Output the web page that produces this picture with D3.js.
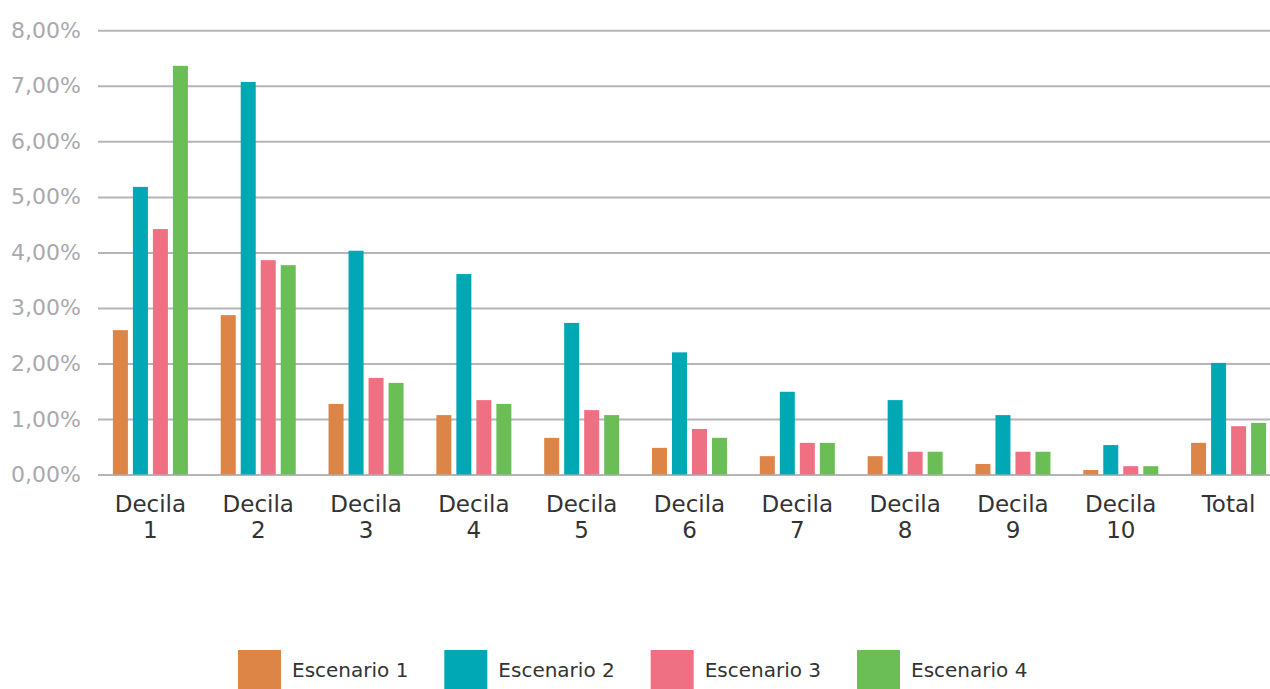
<!DOCTYPE html>
<html>
<head>
<meta charset="utf-8">
<script src="https://cdn.jsdelivr.net/npm/d3@7"></script>
<style>
  html, body { margin: 0; padding: 0; background: #fff; }
  svg { display: block; }
  text { font-family: "DejaVu Sans", "Noto Sans", sans-serif; }
</style>
</head>
<body>
<svg id="chart" width="1270" height="689"></svg>
<script>
// Category labels (two-line) and series
const categories = ["Decila 1", "Decila 2", "Decila 3", "Decila 4", "Decila 5", "Decila 6", "Decila 7", "Decila 8", "Decila 9", "Decila 10", "Total"];
const seriesNames = ["Escenario 1", "Escenario 2", "Escenario 3", "Escenario 4"];
const seriesColors = ["#DD8447", "#00A8B5", "#F07083", "#6ABE55"];

// Values in percent
const escenario1 = [2.60, 2.87, 1.27, 1.07, 0.66, 0.48, 0.33, 0.33, 0.19, 0.08, 0.57];
const escenario2 = [5.18, 7.07, 4.03, 3.61, 2.73, 2.20, 1.49, 1.34, 1.07, 0.53, 2.01];
const escenario3 = [4.42, 3.86, 1.74, 1.34, 1.16, 0.82, 0.57, 0.41, 0.41, 0.15, 0.87];
const escenario4 = [7.36, 3.77, 1.65, 1.27, 1.07, 0.66, 0.57, 0.41, 0.41, 0.15, 0.93];
const seriesValues = [escenario1, escenario2, escenario3, escenario4];

const yTicks = [0, 1, 2, 3, 4, 5, 6, 7, 8];

const svg = d3.select("#chart");
const plotLeft = 98, plotRight = 1284, plotTop = 30.3, plotBottom = 474.5;

const x0 = d3.scaleBand().domain(categories).range([plotLeft - 1.5, plotRight - 1.5]).padding(0);
const x1 = d3.scaleBand().domain(seriesNames).range([0, x0.bandwidth()])
  .paddingInner(0.25).paddingOuter(0.82);
const y = d3.scaleLinear().domain([0, 8]).range([plotBottom, plotTop]);

const fmt = v => d3.format(".2f")(v).replace(".", ",") + "%";

// Horizontal gridlines and y-axis labels
const yAxis = d3.axisLeft(y).tickValues(yTicks).tickSize(-(1270 - plotLeft)).tickFormat(fmt).tickPadding(17);
const gy = svg.append("g").attr("transform", `translate(${plotLeft},0)`).call(yAxis);
gy.select(".domain").remove();
gy.selectAll(".tick line").attr("stroke", "#b4b4b9").attr("stroke-width", 2);
gy.selectAll(".tick text").attr("fill", "#a9a9ae").attr("font-size", 22)
  .attr("font-family", "'DejaVu Sans', sans-serif");

// Bars
const groups = svg.append("g").selectAll("g")
  .data(categories)
  .join("g")
  .attr("transform", d => `translate(${x0(d)},0)`);

groups.selectAll("rect")
  .data((d, i) => seriesNames.map((s, j) => ({ s, v: seriesValues[j][i], c: seriesColors[j] })))
  .join("rect")
  .attr("x", d => x1(d.s))
  .attr("width", x1.bandwidth())
  .attr("y", d => y(d.v))
  .attr("height", d => y(0) - y(d.v))
  .attr("fill", d => d.c);

// Category labels, split onto two lines
const xl = svg.append("g").selectAll("text")
  .data(categories)
  .join("text")
  .attr("x", d => x0(d) + x0.bandwidth() / 2)
  .attr("y", 512)
  .attr("text-anchor", "middle")
  .attr("fill", "#333")
  .attr("font-size", 23);
xl.each(function(d) {
  const parts = d.split(" ");
  const t = d3.select(this);
  if (parts[0] === "Total") {
    t.append("tspan").attr("x", t.attr("x")).text(d);
  } else {
    t.append("tspan").attr("x", t.attr("x")).text(parts[0]);
    t.append("tspan").attr("x", t.attr("x")).attr("dy", 26).text(parts[1]);
  }
});

// Legend
const legendX = d3.scalePoint().domain(seriesNames).range([238, 857]);
const lg = svg.append("g").selectAll("g")
  .data(seriesNames)
  .join("g")
  .attr("transform", d => `translate(${legendX(d)},650)`);
lg.append("rect").attr("width", 43).attr("height", 39)
  .attr("fill", (d, i) => seriesColors[i]);
lg.append("text").attr("x", 54).attr("y", 27)
  .attr("fill", "#333").attr("font-size", 20).text(d => d);
</script>
</body>
</html>
